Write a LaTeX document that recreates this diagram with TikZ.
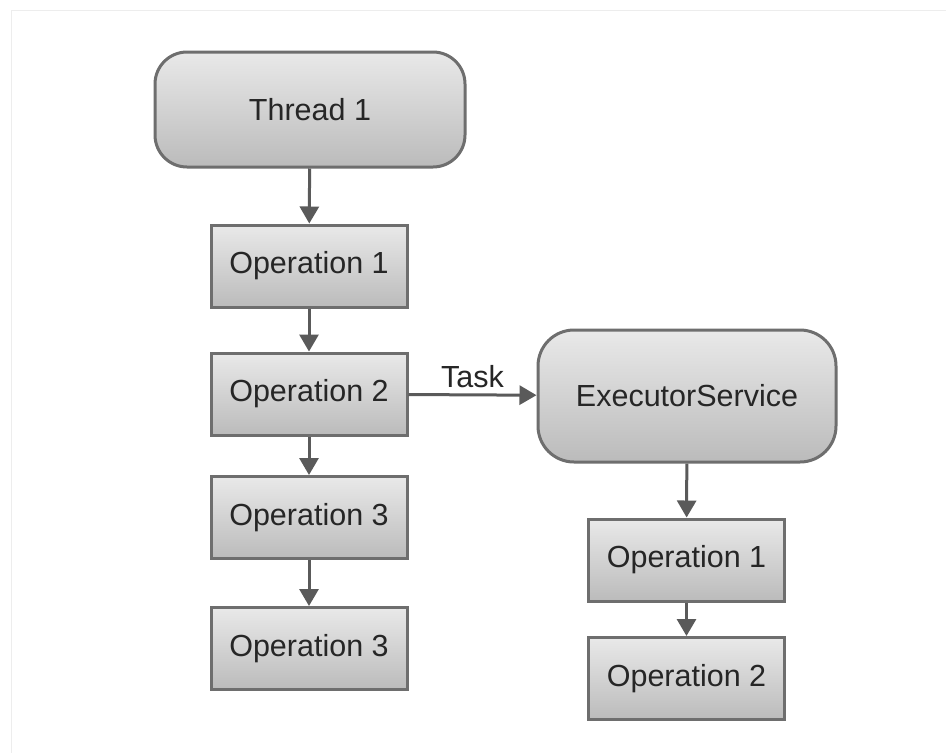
\documentclass[tikz,border=0pt]{standalone}
\usepackage{fontspec}
\setmainfont{Liberation Sans}
\usetikzlibrary{arrows.meta}
\definecolor{boxtop}{HTML}{E9E9E9}
\definecolor{boxbot}{HTML}{BBBBBB}
\definecolor{boxline}{HTML}{6E6E6E}
\definecolor{arrowc}{HTML}{5A5A5A}
\tikzset{
  opbox/.style={draw=boxline, line width=3pt, top color=boxtop, bottom color=boxbot,
    minimum width=196pt, minimum height=82pt, inner sep=0pt,
    font=\fontsize{30.5}{35}\selectfont, text=black!85},
  roundbox/.style={opbox, rounded corners=32pt},
  flow/.style={draw=arrowc, line width=3pt, -{Triangle[width=19pt,length=17pt]}}
}
\begin{document}
\begin{tikzpicture}[x=1pt,y=-1pt]
\useasboundingbox (0,0) rectangle (946,753);
\fill[white] (0,0) rectangle (946,753);
\draw[black!7, line width=1pt] (11,10) rectangle (946,753);
\node[roundbox, minimum width=310pt, minimum height=115pt] (t1) at (310,109.5) {Thread 1};
\node[opbox] (o1) at (309,266) {Operation 1};
\node[opbox] (o2) at (309,394) {Operation 2};
\node[opbox] (o3) at (309,517.5) {Operation 3};
\node[opbox] (o4) at (309,648.5) {Operation 3};
\node[roundbox, minimum width=298pt, minimum height=132pt, rounded corners=36pt] (ex) at (687,396) {ExecutorService};
\node[opbox] (r1) at (686.5,560) {Operation 1};
\node[opbox] (r2) at (686.5,678.5) {Operation 2};
\draw[flow] (t1) -- (o1);
\draw[flow] (o1) -- (o2);
\draw[flow] (o2) -- (o3);
\draw[flow] (o3) -- (o4);
\draw[flow] (o2) -- node[above=2pt, font=\fontsize{30.5}{35}\selectfont, text=black!85] (task) {Task} (ex);
\draw[flow] (ex) -- (r1);
\draw[flow] (r1) -- (r2);
\end{tikzpicture}
\end{document}
